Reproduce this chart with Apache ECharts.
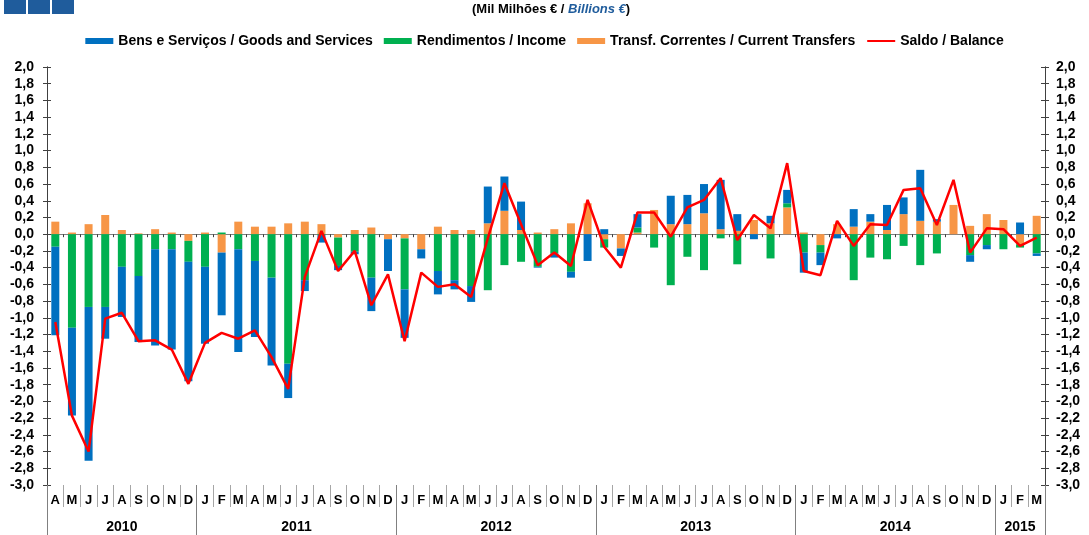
<!DOCTYPE html>
<html><head><meta charset="utf-8">
<script src="https://cdn.jsdelivr.net/npm/echarts@6/dist/echarts.min.js"></script>
<style>html,body{margin:0;padding:0;background:#fff}#c{width:1089px;height:535px}</style>
</head><body><div id="c"></div>
<script>
// ---- data ----
const categories = [
 '2010-04','2010-05','2010-06','2010-07','2010-08','2010-09','2010-10','2010-11','2010-12',
 '2011-01','2011-02','2011-03','2011-04','2011-05','2011-06','2011-07','2011-08','2011-09','2011-10','2011-11','2011-12',
 '2012-01','2012-02','2012-03','2012-04','2012-05','2012-06','2012-07','2012-08','2012-09','2012-10','2012-11','2012-12',
 '2013-01','2013-02','2013-03','2013-04','2013-05','2013-06','2013-07','2013-08','2013-09','2013-10','2013-11','2013-12',
 '2014-01','2014-02','2014-03','2014-04','2014-05','2014-06','2014-07','2014-08','2014-09','2014-10','2014-11','2014-12',
 '2015-01','2015-02','2015-03'];
const monthLabels = [
 'A','M','J','J','A','S','O','N','D',
 'J','F','M','A','M','J','J','A','S','O','N','D',
 'J','F','M','A','M','J','J','A','S','O','N','D',
 'J','F','M','A','M','J','J','A','S','O','N','D',
 'J','F','M','A','M','J','J','A','S','O','N','D',
 'J','F','M'];
const years = ['2010','2011','2012','2013','2014','2015'];
const yearMonthCounts = [9,12,12,12,12,3];
const yTickLabels = ['2,0','1,8','1,6','1,4','1,2','1,0','0,8','0,6','0,4','0,2','0,0','-0,2','-0,4','-0,6','-0,8','-1,0','-1,2','-1,4','-1,6','-1,8','-2,0','-2,2','-2,4','-2,6','-2,8','-3,0'];

const goods = [
 -1.06,-1.05,-1.84,-0.38,-0.60,-0.79,-1.15,-1.20,-1.43,
 -0.92,-0.75,-1.23,-0.91,-1.05,-0.41,-0.13,-0.09,-0.05,-0.03,-0.40,-0.38,
 -0.58,-0.11,-0.28,-0.11,-0.19,0.44,0.41,0.34,-0.01,-0.05,-0.07,-0.32,
 0.06,-0.09,0.16,0,0.34,0.35,0.35,0.59,0.20,-0.06,0.09,0.16,
 -0.24,-0.15,-0.05,0.21,0.09,0.30,0.20,0.61,0.03,0,-0.08,-0.05,
 0,0.14,-0.03];
const income = [
 -0.15,-1.12,-0.87,-0.87,-0.39,-0.50,-0.18,-0.18,-0.25,
 -0.39,0.02,-0.18,-0.32,-0.52,-1.55,-0.55,-0.01,-0.34,-0.21,-0.52,0,
 -0.61,0,-0.44,-0.55,-0.62,-0.67,-0.37,-0.33,-0.39,-0.23,-0.45,0,
 -0.10,0,0.06,-0.16,-0.61,-0.27,-0.43,-0.05,-0.36,0,-0.29,0.05,
 -0.22,-0.09,0,-0.55,-0.28,-0.30,-0.14,-0.37,-0.23,0,-0.25,-0.13,
 -0.18,-0.04,-0.23];
const transfers = [
 0.15,0.02,0.12,0.23,0.05,0.01,0.06,0.02,-0.08,
 0.02,-0.22,0.15,0.09,0.09,0.13,0.15,0.12,-0.04,0.05,0.08,-0.06,
 -0.05,-0.18,0.09,0.05,0.05,0.13,0.28,0.05,0.02,0.06,0.13,0.37,
 -0.06,-0.17,0.02,0.29,0.12,0.12,0.25,0.06,0.04,0.17,0.13,0.32,
 0.02,-0.13,0.12,0.09,0.15,0.05,0.24,0.16,0.15,0.35,0.10,0.24,
 0.17,-0.12,0.22];
const balance = [
 -1.05,-2.17,-2.60,-1.01,-0.94,-1.28,-1.27,-1.38,-1.79,
 -1.30,-1.18,-1.25,-1.15,-1.47,-1.85,-0.51,0.04,-0.44,-0.20,-0.85,-0.48,
 -1.28,-0.46,-0.63,-0.60,-0.75,-0.05,0.61,0.12,-0.37,-0.22,-0.38,0.41,
 -0.15,-0.40,0.26,0.26,-0.03,0.32,0.41,0.67,-0.07,0.23,0.07,0.85,
 -0.44,-0.49,0.16,-0.14,0.12,0.11,0.53,0.55,0.11,0.65,-0.22,0.07,
 0.06,-0.14,-0.04];

const names = ['Bens e Serviços / Goods and Services','Rendimentos / Income','Transf. Correntes / Current Transfers','Saldo / Balance'];

// ---- derived helpers ----
const yearStarts = [];
const yearCenters = [];
let acc = 0;
yearMonthCounts.forEach(n => { yearStarts.push(acc); yearCenters.push(acc + n / 2); acc += n; });
const totalMonths = acc;

const FONT = "'Liberation Sans', Arial, sans-serif";
function yFmt(v) {
  const idx = Math.round((2 - v) / 0.2);
  return yTickLabels[idx] !== undefined ? yTickLabels[idx] : '';
}
function yearFmt(v) {
  for (let i = 0; i < yearCenters.length; i++) if (Math.abs(v - yearCenters[i]) < 1e-6) return years[i];
  return '';
}

const chart = echarts.init(document.getElementById('c'));
const yBase = {
  type: 'value', min: -3, max: 2, interval: 0.2, splitLine: {show: false},
  axisLine: {show: true, onZero: false, lineStyle: {color: '#404040', width: 1}},
};
chart.setOption({
  animation: false,
  backgroundColor: '#ffffff',
  textStyle: {fontFamily: FONT},
  grid: {left: 47, right: 44, top: 67, bottom: 50, containLabel: false},
  legend: {
    data: [
      {name: names[0], icon: 'rect'},
      {name: names[1], icon: 'rect'},
      {name: names[2], icon: 'rect'},
      {name: names[3], itemStyle: {color: 'rgba(0,0,0,0)', borderWidth: 0, opacity: 0}, lineStyle: {width: 2, color: '#FF0000'}}
    ],
    top: 29, left: 'center', itemWidth: 28, itemHeight: 6, itemGap: 11,
    textStyle: {fontFamily: FONT, fontSize: 14, fontWeight: 'bold', color: '#000'}
  },
  graphic: [
    {type: 'rect', left: 4, top: 0, shape: {width: 22, height: 14}, style: {fill: '#1F5C9C'}},
    {type: 'rect', left: 28, top: 0, shape: {width: 22, height: 14}, style: {fill: '#1F5C9C'}},
    {type: 'rect', left: 52, top: 0, shape: {width: 22, height: 14}, style: {fill: '#1F5C9C'}},
    {type: 'text', left: 472, top: 3,
      style: {
        text: '{a|(Mil Milhões € / }{b|Billions €}{a|)}',
        rich: {
          a: {fontFamily: FONT, fontSize: 13, fontWeight: 'bold', fill: '#000'},
          b: {fontFamily: FONT, fontSize: 13, fontWeight: 'bold', fontStyle: 'italic', fill: '#1F5C9C'}
        }
      }
    }
  ],
  xAxis: [
    { // zero-line axis with small boundary ticks
      type: 'category', data: categories, position: 'bottom',
      axisLine: {show: true, onZero: true, lineStyle: {color: '#808080', width: 1}},
      axisTick: {show: true, interval: 0, length: 3, lineStyle: {color: '#404040'}},
      axisLabel: {show: false}, splitLine: {show: false}
    },
    { // month labels row
      type: 'category', data: categories, position: 'bottom',
      axisLine: {show: false, onZero: false},
      axisTick: {show: true, interval: 0, length: 22, lineStyle: {color: '#a6a6a6'}},
      axisLabel: {show: true, interval: 0, margin: 9, fontFamily: FONT, fontSize: 13, fontWeight: 'bold', color: '#000',
        formatter: (v, i) => monthLabels[i]},
      splitLine: {show: false}
    },
    { // year separators
      type: 'category', data: categories, position: 'bottom',
      axisLine: {show: false, onZero: false},
      axisTick: {show: true, interval: (i) => yearStarts.indexOf(i) >= 0, length: 50, lineStyle: {color: '#808080'}},
      axisLabel: {show: false}, splitLine: {show: false}
    },
    { // year labels
      type: 'value', min: 0, max: totalMonths, interval: 0.5, position: 'bottom',
      axisLine: {show: false, onZero: false}, axisTick: {show: false}, splitLine: {show: false},
      axisLabel: {show: true, margin: 35, fontFamily: FONT, fontSize: 14, fontWeight: 'bold', color: '#000',
        formatter: yearFmt, showMinLabel: true, showMaxLabel: true}
    }
  ],
  yAxis: [
    Object.assign({}, yBase, {position: 'left',
      axisTick: {show: true, inside: false, length: 4, lineStyle: {color: '#404040'}},
      axisLabel: {show: true, margin: 13, fontFamily: FONT, fontSize: 14, fontWeight: 'bold', color: '#000', formatter: yFmt}}),
    Object.assign({}, yBase, {position: 'right',
      axisTick: {show: true, inside: false, length: 4, lineStyle: {color: '#404040'}},
      axisLabel: {show: true, margin: 11, fontFamily: FONT, fontSize: 14, fontWeight: 'bold', color: '#000', formatter: yFmt}}),
    Object.assign({}, yBase, {position: 'left',
      axisTick: {show: true, inside: true, length: 4, lineStyle: {color: '#404040'}},
      axisLabel: {show: false}}),
    Object.assign({}, yBase, {position: 'right',
      axisTick: {show: true, inside: true, length: 4, lineStyle: {color: '#404040'}},
      axisLabel: {show: false}})
  ],
  series: [
    {name: names[2], type: 'bar', stack: 'cab', data: transfers, barWidth: 8, itemStyle: {color: '#F79646'}, xAxisIndex: 0, yAxisIndex: 0},
    {name: names[1], type: 'bar', stack: 'cab', data: income, barWidth: 8, itemStyle: {color: '#00B050'}, xAxisIndex: 0, yAxisIndex: 0},
    {name: names[0], type: 'bar', stack: 'cab', data: goods, barWidth: 8, itemStyle: {color: '#0070C0'}, xAxisIndex: 0, yAxisIndex: 0},
    {name: names[3], type: 'line', data: balance, symbol: 'none', showSymbol: false, z: 10,
      lineStyle: {color: '#FF0000', width: 2.5}, itemStyle: {color: '#FF0000'}, xAxisIndex: 0, yAxisIndex: 0}
  ]
});
</script></body></html>
